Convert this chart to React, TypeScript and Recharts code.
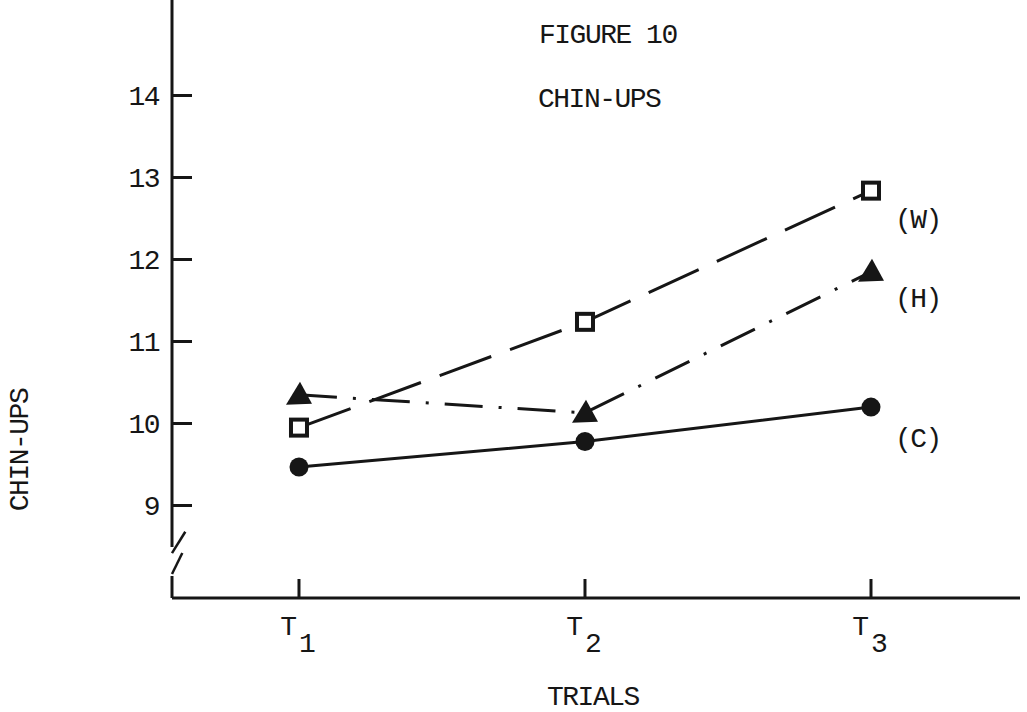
import React from "react";
import { LineChart, Line, XAxis, YAxis, ReferenceLine } from "recharts";

// trials on the x axis (T1, T2, T3) and mean chin-ups per group
const trials = [1, 2, 3];
const trialLabels = ["1", "2", "3"];
const groupW = [9.95, 11.24, 12.84];
const groupH = [10.35, 10.13, 11.85];
const groupC = [9.47, 9.78, 10.2];
const yTicks = [9, 10, 11, 12, 13, 14];

const data = trials.map((t, i) => ({ t, w: groupW[i], h: groupH[i], c: groupC[i] }));

const X_DOMAIN: [number, number] = [0.556, 3.521];
const Y_DOMAIN: [number, number] = [7.872, 15.165];
const FONT = "'Liberation Mono', monospace";
const FS = 28;
const LS = -1.5;
const INK = "#161616";

const textStyle: React.CSSProperties = {
  position: "absolute",
  fontFamily: FONT,
  fontSize: FS,
  letterSpacing: LS,
  color: INK,
  whiteSpace: "nowrap",
  lineHeight: 1,
};

function YTick({ x, y, payload }: any) {
  return (
    <g>
      <line x1={x} y1={y} x2={x + 20} y2={y} stroke={INK} strokeWidth={3} />
      <text x={x - 13} y={y + 9} textAnchor="end" fontFamily={FONT} fontSize={FS} letterSpacing={LS} fill={INK}>
        {payload.value}
      </text>
    </g>
  );
}

function XTick({ x, y, payload }: any) {
  const i = trials.indexOf(payload.value);
  return (
    <g>
      <line x1={x} y1={y - 19} x2={x} y2={y} stroke={INK} strokeWidth={3} />
      <text x={x - 2} y={y + 37} textAnchor="end" fontFamily={FONT} fontSize={FS} fill={INK}>
        T
      </text>
      <text x={x} y={y + 54} textAnchor="start" fontFamily={FONT} fontSize={FS} fill={INK}>
        {trialLabels[i]}
      </text>
    </g>
  );
}

const squareDot = (p: any) => (
  <rect key={`w-${p.index}`} x={p.cx - 8} y={p.cy - 8} width={16} height={16} fill="#fff" stroke={INK} strokeWidth={4} />
);
const triangleDot = (p: any) => (
  <path key={`h-${p.index}`} d={`M${p.cx - 13},${p.cy + 10} L${p.cx + 1},${p.cy - 13} L${p.cx + 13},${p.cy + 9} Z`} fill={INK} />
);
const circleDot = (p: any) => <circle key={`c-${p.index}`} cx={p.cx} cy={p.cy} r={9.5} fill={INK} />;

const endLabel = (name: string, dy: number) => (p: any) =>
  p.index === trials.length - 1 ? (
    <text key={`l-${name}`} x={p.x + 24} y={p.y + dy} fontFamily={FONT} fontSize={FS} letterSpacing={LS} fill={INK}>
      {`(${name})`}
    </text>
  ) : null;

export default function App() {
  return (
    <div style={{ position: "absolute", left: 0, top: 0, width: 1027, height: 712, background: "#fff" }}>
      <LineChart width={1027} height={712} data={data} margin={{ top: 0, right: 7, bottom: 0, left: 0 }}>
        <XAxis
          type="number"
          dataKey="t"
          domain={X_DOMAIN}
          ticks={trials}
          allowDataOverflow
          height={114}
          tickSize={0}
          tickMargin={0}
          tickLine={false}
          axisLine={{ stroke: INK, strokeWidth: 3 }}
          tick={<XTick />}
        />
        <YAxis
          type="number"
          domain={Y_DOMAIN}
          ticks={yTicks}
          allowDataOverflow
          width={172}
          tickSize={0}
          tickMargin={0}
          tickLine={false}
          axisLine={false}
          tick={<YTick />}
        />
        {/* broken y axis with the // mark */}
        <ReferenceLine segment={[{ x: X_DOMAIN[0], y: Y_DOMAIN[1] }, { x: X_DOMAIN[0], y: 8.494 }]} stroke={INK} strokeWidth={3} />
        <ReferenceLine segment={[{ x: X_DOMAIN[0], y: 8.14 }, { x: X_DOMAIN[0], y: Y_DOMAIN[0] }]} stroke={INK} strokeWidth={3} />
        <ReferenceLine segment={[{ x: X_DOMAIN[0], y: 8.42 }, { x: 0.6025, y: 8.68 }]} stroke={INK} strokeWidth={2.5} />
        <ReferenceLine segment={[{ x: X_DOMAIN[0], y: 8.165 }, { x: 0.592, y: 8.42 }]} stroke={INK} strokeWidth={2.5} />
        <Line
          dataKey="c"
          type="linear"
          stroke={INK}
          strokeWidth={3}
          dot={circleDot}
          activeDot={false}
          label={endLabel("C", 40)}
          isAnimationActive={false}
        />
        <Line
          dataKey="h"
          type="linear"
          stroke={INK}
          strokeWidth={3}
          strokeDasharray="38 16 3 16"
          dot={triangleDot}
          activeDot={false}
          label={endLabel("H", 35)}
          isAnimationActive={false}
        />
        <Line
          dataKey="w"
          type="linear"
          stroke={INK}
          strokeWidth={3}
          strokeDasharray="55 20"
          dot={squareDot}
          activeDot={false}
          label={endLabel("W", 37)}
          isAnimationActive={false}
        />
      </LineChart>
      <div style={{ ...textStyle, left: 539, top: 22 }}>FIGURE 10</div>
      <div style={{ ...textStyle, left: 538, top: 86 }}>CHIN-UPS</div>
      <div style={{ ...textStyle, left: 547, top: 684 }}>TRIALS</div>
      <div
        style={{
          ...textStyle,
          left: 21,
          top: 450,
          transform: "translate(-50%, -50%) rotate(-90deg)",
        }}
      >
        CHIN-UPS
      </div>
    </div>
  );
}
